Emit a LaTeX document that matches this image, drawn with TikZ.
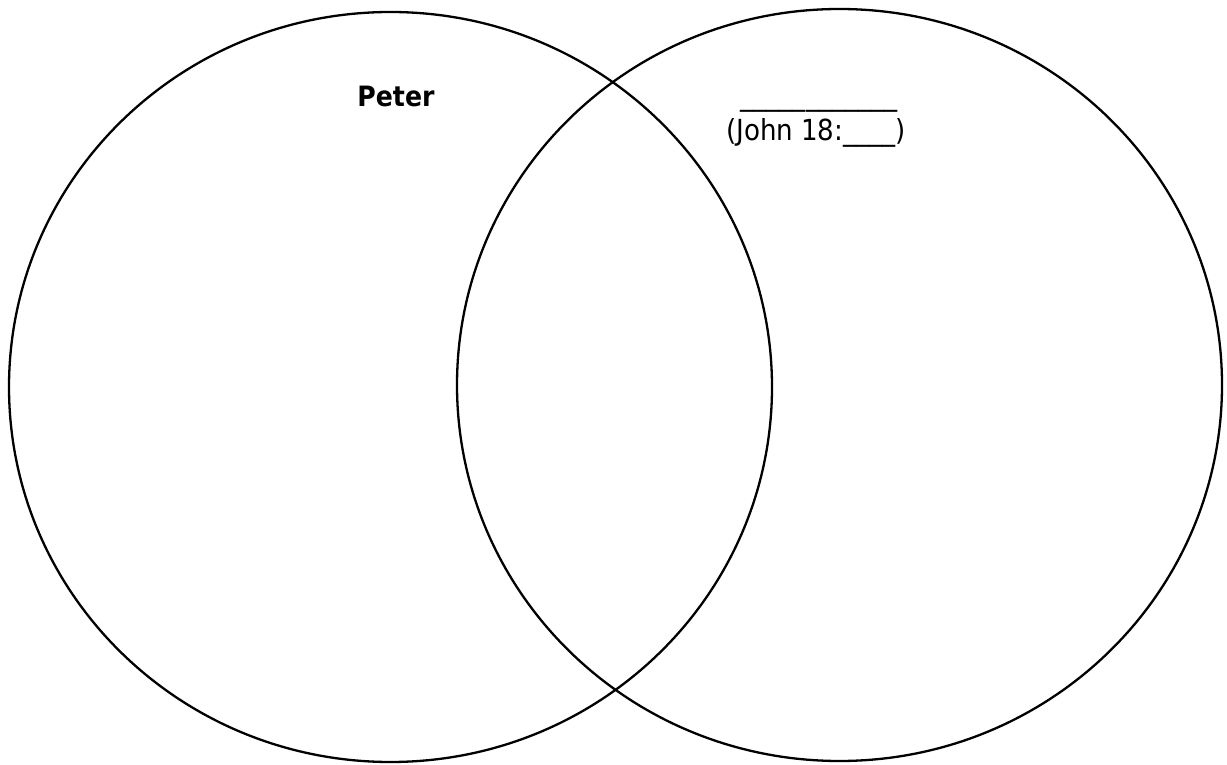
\documentclass[tikz,border=0pt]{standalone}
\usepackage{fontspec}
\setmainfont{DejaVu Sans Condensed}
\begin{document}
\begin{tikzpicture}[x=1pt,y=1pt,
  venn/.style={draw=black,line width=2.3pt},
  title/.style={font=\fontsize{28}{32}\selectfont\bfseries,anchor=base,inner sep=0pt},
  label/.style={font=\fontsize{29}{34}\selectfont,anchor=base,inner sep=0pt}]
\useasboundingbox[fill=white] (0,0) rectangle (1227,764);
\draw[venn] (390.5,377) ellipse [x radius=381.5, y radius=375];
\draw[venn] (839.5,379) ellipse [x radius=382.5, y radius=376];
\node[title] (peter) at (396,657) {Peter};
\node[label] (blank) at (819,658) {\_\_\_\_\_\_\_\_\_\_\_\_};
\node[label] (john) at (816,623) {(John 18:\_\_\_\_)};
\end{tikzpicture}
\end{document}
